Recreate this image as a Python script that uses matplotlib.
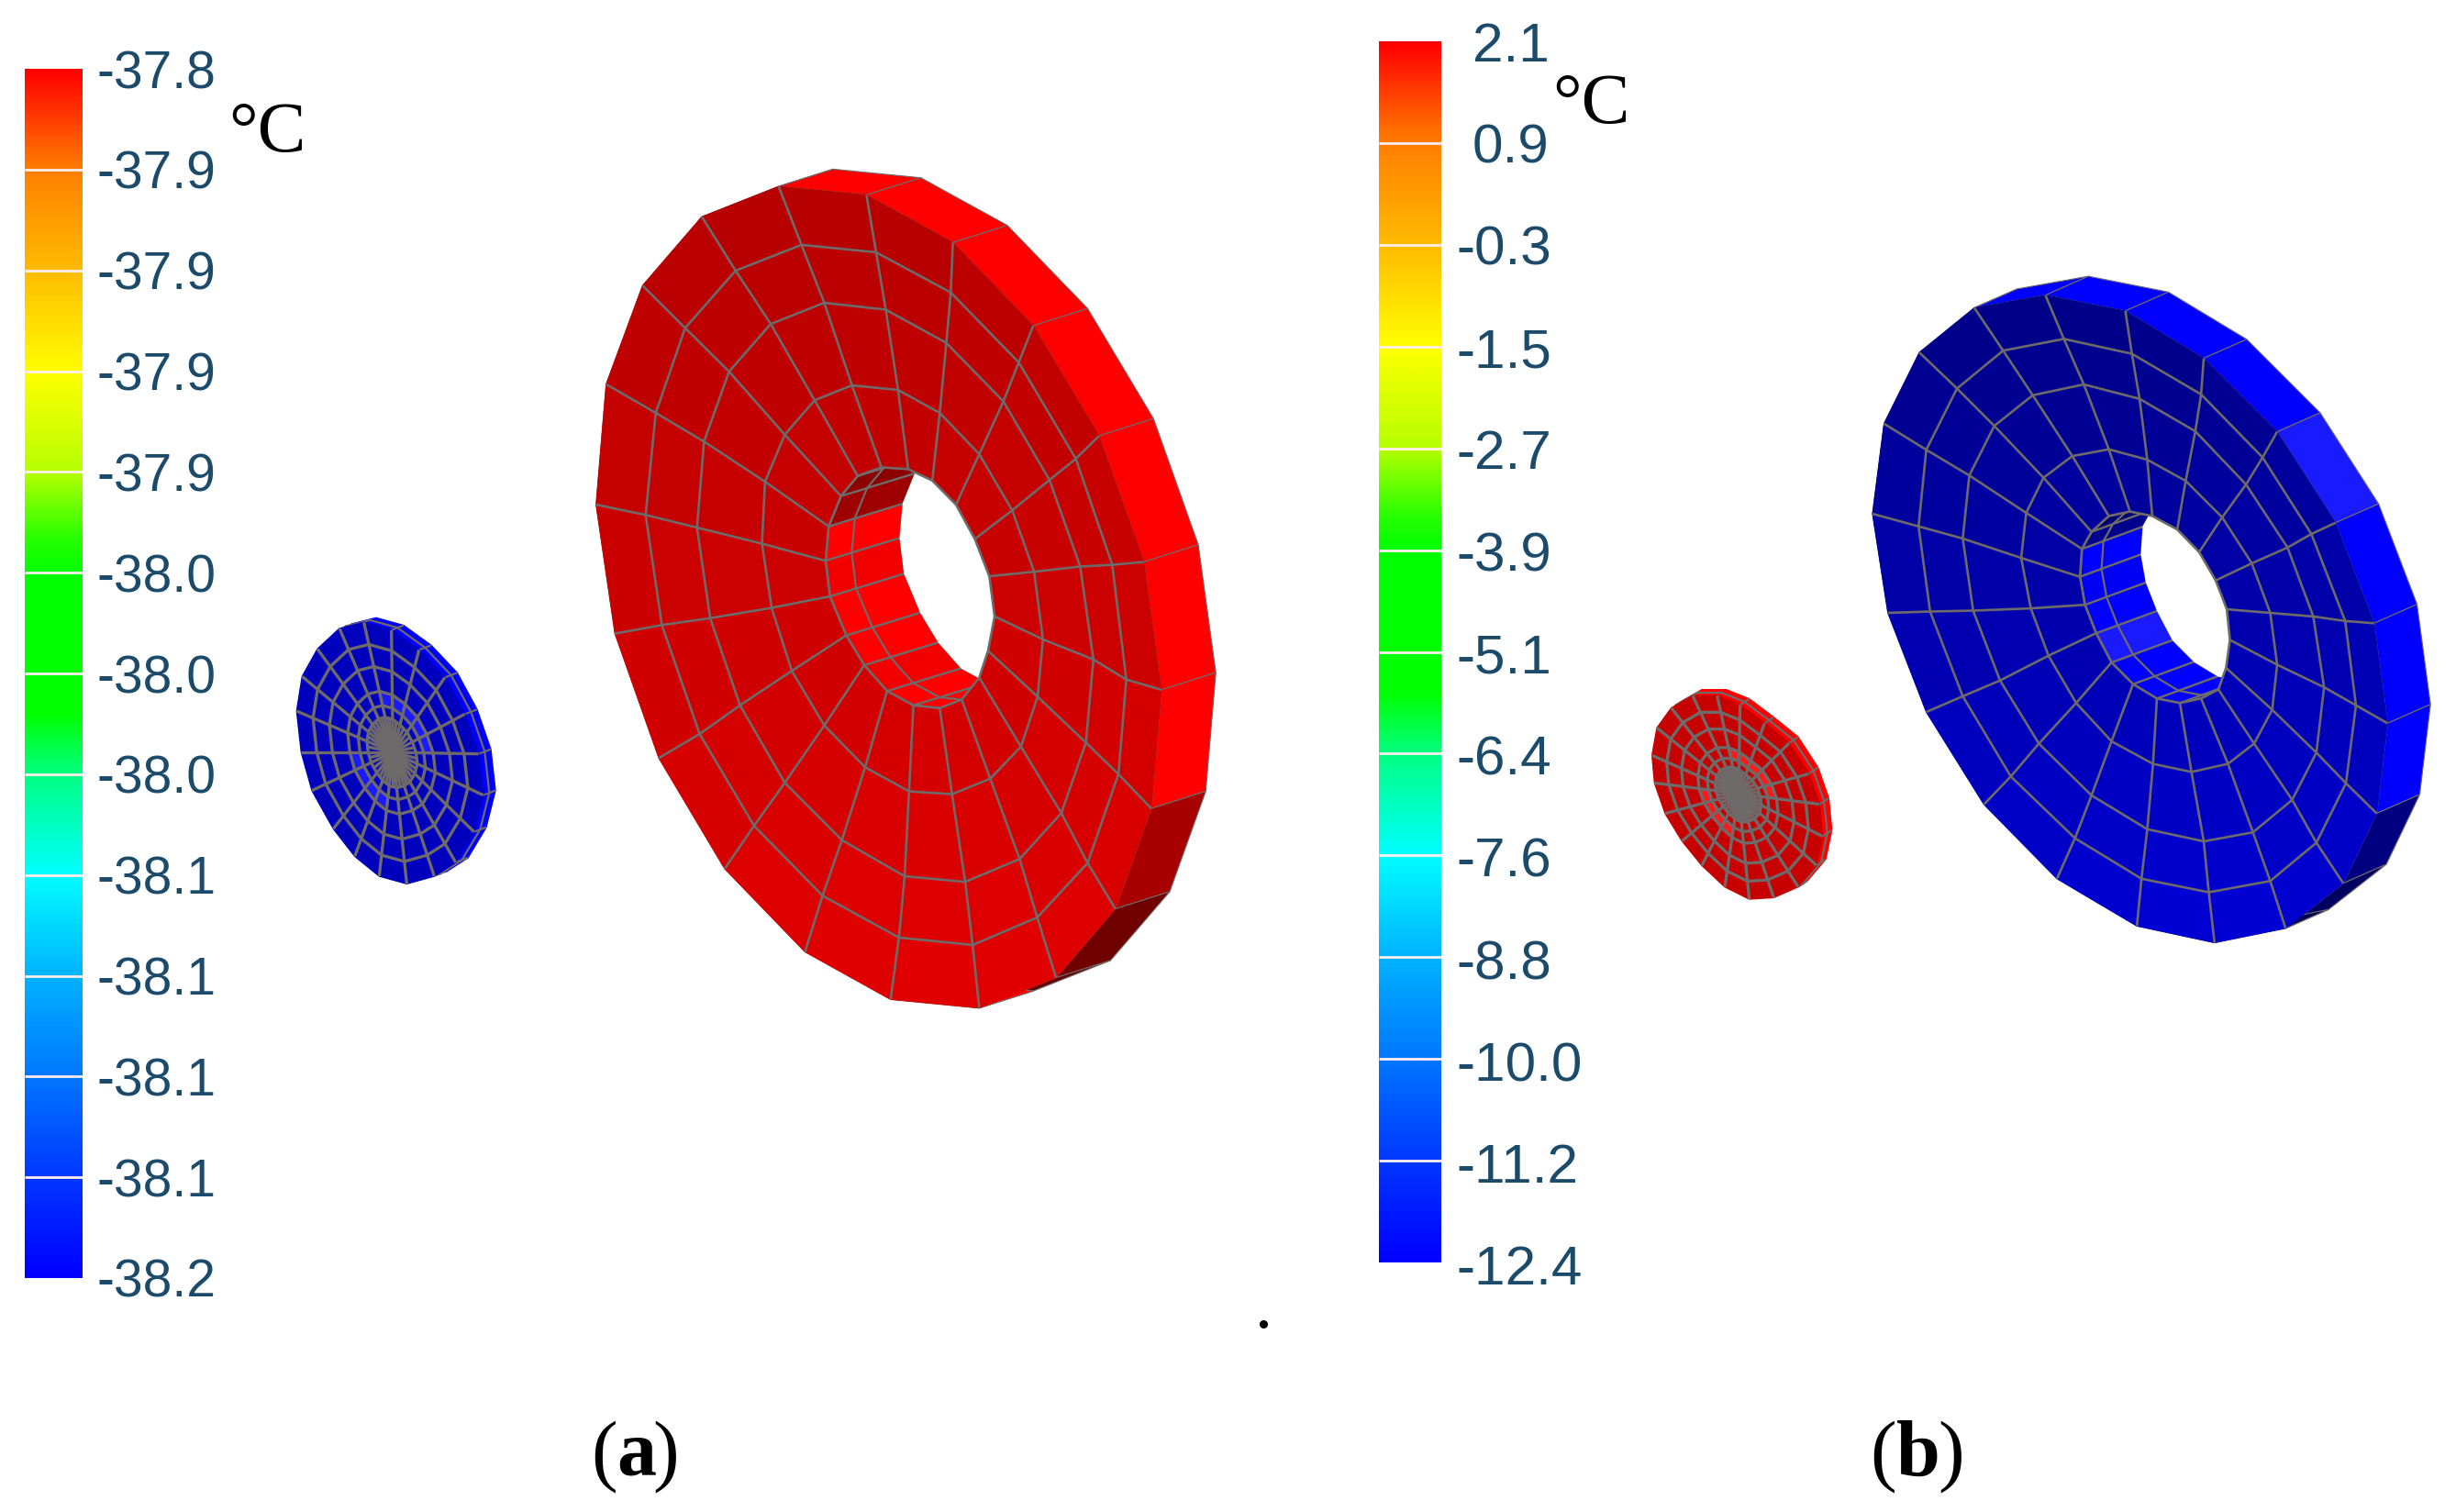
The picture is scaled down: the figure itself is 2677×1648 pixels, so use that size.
#!/usr/bin/env python3
"""Temperature fields on two meshed discs, panels (a) and (b), each with its own colour bar."""
import numpy as np
import matplotlib
matplotlib.use("Agg")
import matplotlib.pyplot as plt
from matplotlib.collections import LineCollection, PolyCollection
from matplotlib.colors import LinearSegmentedColormap

LEFT_LABELS = ["-37.8", "-37.9", "-37.9", "-37.9", "-37.9", "-38.0", "-38.0",
               "-38.0", "-38.1", "-38.1", "-38.1", "-38.1", "-38.2"]
RIGHT_LABELS = ["2.1", "0.9", "-0.3", "-1.5", "-2.7", "-3.9", "-5.1",
                "-6.4", "-7.6", "-8.8", "-10.0", "-11.2", "-12.4"]

# colour bar stops, in label steps from the top
BAR_STEPS = [0, 1, 2, 3, 4, 4.65, 5, 6.4, 7, 8, 9, 10, 11, 12]
BAR_COLORS = ["#ff0000", "#ff8000", "#ffbc00", "#ffff00", "#b4ff00", "#28ff00", "#00ff00",
              "#00ff00", "#00ff80", "#00ffff", "#00b4ff", "#0078ff", "#0038ff", "#0000ff"]

RED_SPOKES = [
    [(62, 640), (175, 658), (292, 680), (440, 708), (585, 738)],
    [(85, 430), (198, 480), (308, 530), (447, 600), (592, 678)],
    [(168, 258), (265, 332), (365, 408), (492, 518), (620, 625)],
    [(303, 138), (380, 232), (460, 325), (560, 458), (658, 590)],
    [(478, 85), (530, 187), (582, 288), (645, 432), (712, 575)],
    [(678, 100), (700, 200), (722, 300), (750, 440), (773, 578)],
    [(875, 183), (870, 270), (860, 358), (845, 480), (828, 598)],
    [(1058, 328), (1025, 392), (990, 460), (935, 552), (882, 640)],
    [(1208, 520), (1155, 560), (1095, 597), (1010, 650), (925, 700)],
    [(1310, 740), (1238, 745), (1165, 748), (1060, 757), (958, 765)],
    [(1350, 963), (1270, 945), (1195, 910), (1080, 875), (970, 835)],
    [(1327, 1170), (1252, 1110), (1178, 1055), (1068, 975), (955, 895)],
    [(1245, 1345), (1182, 1265), (1122, 1178), (1030, 1062), (935, 942)],
    [(1110, 1465), (1067, 1360), (1027, 1258), (960, 1118), (895, 980)],
    [(935, 1518), (920, 1408), (903, 1298), (873, 1145), (845, 995)],
    [(733, 1503), (752, 1395), (765, 1288), (775, 1140), (785, 990)],
    [(538, 1420), (578, 1322), (622, 1225), (675, 1098), (725, 965)],
    [(355, 1275), (422, 1200), (492, 1125), (582, 1025), (673, 920)],
    [(205, 1082), (298, 1040), (390, 990), (508, 930), (632, 868)],
    [(105, 865), (212, 850), (322, 838), (462, 820), (595, 800)],
]

# big disc of (b), crop at (2020, 280)
BLUE_SPOKES = [
    [(50, 570), (170, 598), (285, 625), (437, 668), (590, 710)],
    [(80, 370), (190, 428), (302, 485), (450, 568), (595, 648)],
    [(172, 212), (270, 292), (367, 375), (495, 490), (620, 610)],
    [(315, 113), (390, 208), (467, 307), (570, 442), (665, 575)],
    [(500, 85), (548, 182), (600, 283), (665, 427), (720, 565)],
    [(708, 120), (725, 215), (745, 315), (765, 450), (778, 575)],
    [(912, 225), (905, 305), (890, 387), (865, 497), (843, 605)],
    [(1103, 388), (1065, 445), (1022, 505), (960, 578), (900, 655)],
    [(1255, 590), (1192, 615), (1130, 645), (1037, 680), (943, 718)],
    [(1355, 813), (1280, 808), (1197, 798), (1085, 790), (972, 782)],
    [(1390, 1035), (1308, 995), (1225, 955), (1103, 905), (980, 850)],
    [(1362, 1235), (1282, 1168), (1205, 1100), (1090, 1005), (970, 912)],
    [(1275, 1390), (1205, 1300), (1142, 1205), (1043, 1080), (950, 960)],
    [(1125, 1490), (1085, 1385), (1040, 1277), (975, 1125), (905, 980)],
    [(940, 1522), (925, 1410), (912, 1297), (880, 1143), (850, 990)],
    [(738, 1485), (750, 1380), (765, 1270), (780, 1125), (790, 980)],
    [(530, 1380), (577, 1290), (620, 1195), (672, 1075), (728, 948)],
    [(340, 1215), (410, 1153), (483, 1080), (580, 990), (672, 900)],
    [(190, 1010), (285, 975), (382, 940), (508, 885), (632, 835)],
    [(90, 790), (200, 787), (312, 785), (462, 780), (603, 772)],
]

# small discs: outline only, crops at (300, 650) and (1780, 730)
SMALL_A_OUTLINE = [(70, 375), (88, 262), (138, 172), (210, 105), (290, 85), (380, 110), (470, 175),
                   (555, 265), (620, 385), (665, 515), (680, 650), (650, 770), (590, 870), (520, 915),
                   (430, 940), (340, 915), (260, 850), (190, 760), (120, 635), (85, 510)]
SMALL_B_OUTLINE = [(62, 280), (78, 190), (125, 125), (195, 85), (275, 85), (350, 115), (430, 175),
                   (510, 240), (575, 340), (610, 440), (620, 545), (600, 640), (540, 710), (460, 745),
                   (380, 750), (300, 710), (225, 640), (160, 560), (105, 470), (70, 370)]
SMALL_RINGS = [1.0, 0.83, 0.66, 0.47, 0.36, 0.27, 0.05]
SMALL_BRIGHT_SECTORS = [4, 5, 6, 7, 8, 15, 16, 17, 18]

# shade of each rim face, 0 = black, 1 = full colour, above 1 washed out
RED_RIM_SHADE = [1, 1, 1, 1, 1, 1, 1, 1, 1, 1, 1, 0.66, 0.44, 0.38, 1, 1, 1, 1, 1, 1]
BLUE_RIM_SHADE = [1, 1, 1, 1, 1, 1, 1, 1.1, 1, 1, 1, 0.5, 0.38, 0.32, 1, 1, 1, 1, 1, 1]
RED_BORE_SHADE = [1, 0.62, 0.55, 0.42, 0.42, 1, 1, 1, 1, 1, 1, 1, 1, 1, 1, 1, 0.95, 1, 1, 0.95]
BLUE_BORE_SHADE = [1, 0.55, 0.45, 0.4, 0.4, 1, 1, 1, 1, 1, 1, 1, 1, 1, 1, 1, 1, 1.1, 1, 0.95]

LINE_GREY = "#6f6a6a"
LABEL_BLUE = "#1b4a6b"


def to_page(points, origin, scale):
    return np.asarray(points, dtype=float) / np.array(scale) + origin


def shade(rgb, amount):
    rgb = np.asarray(rgb, dtype=float)
    if amount > 1:
        return tuple(np.clip(rgb + (amount - 1), 0, 1))
    return tuple(rgb * amount)


def quads(outer, inner):
    n = len(outer)
    return [[outer[i], outer[(i + 1) % n], inner[(i + 1) % n], inner[i]] for i in range(n)]


def draw_bar(ax, x0, x1, y0, y1, cmap):
    ramp = np.linspace(0, 1, 400).reshape(-1, 1)
    ax.imshow(ramp, cmap=cmap, extent=(x0, x1, y1, y0), aspect="auto", zorder=2,
              interpolation="bilinear")
    ticks = np.linspace(y0, y1, 13)[1:-1]
    ax.hlines(ticks, x0, x1, color="#ffeeee", lw=2.0, zorder=3)


def draw_labels(ax, labels, x_plain, x_minus, y0, y1, size):
    for label, y in zip(labels, np.linspace(y0, y1, 13)):
        x = x_minus if label.startswith("-") else x_plain
        ax.text(x, y, label, ha="left", va="center", fontsize=size, color=LABEL_BLUE,
                family="Liberation Sans", zorder=4)


def draw_big_disc(ax, spokes, origin, scale, rim_offset, bore_offset, rim_shade, bore_shade, rgb, face_range):
    mesh = to_page(spokes, origin, scale)
    outer = mesh[:, 0]
    hole = mesh[:, -1]
    rim_off = np.array(rim_offset) / np.array(scale)
    bore_off = np.array(bore_offset) / np.array(scale)

    rim_polys = quads(outer, outer + rim_off)
    ax.add_collection(PolyCollection(rim_polys, facecolors=[shade(rgb, s) for s in rim_shade],
                                     edgecolors=LINE_GREY, linewidths=0.8, zorder=5))

    bore_polys = quads(hole, hole + bore_off)
    ax.add_collection(PolyCollection(bore_polys, facecolors=[shade(rgb, s) for s in bore_shade],
                                     edgecolors=LINE_GREY, linewidths=1.6, zorder=6))
    ring = hole + bore_off * 0.35
    ax.add_collection(LineCollection([np.vstack([ring, ring[:1]])], colors=LINE_GREY, linewidths=1.6, zorder=6))
    ax.fill(*(hole + bore_off).T, color="white", zorder=7)

    # front face gets darker towards the top of the disc
    polys, colors = [], []
    top, bottom = outer[:, 1].min(), outer[:, 1].max()
    for j in range(mesh.shape[1] - 1):
        for poly in quads(mesh[:, j], mesh[:, j + 1]):
            t = (np.mean(poly, axis=0)[1] - top) / (bottom - top)
            polys.append(poly)
            colors.append(shade(rgb, face_range[0] + t * (face_range[1] - face_range[0])))
    ax.add_collection(PolyCollection(polys, facecolors=colors, edgecolors=colors, linewidths=0.6, zorder=8))

    segs = [mesh[i] for i in range(len(mesh))]
    for j in range(1, mesh.shape[1]):
        segs.append(np.vstack([mesh[:, j], mesh[:1, j]]))
    ax.add_collection(LineCollection(segs, colors=LINE_GREY, linewidths=1.9, zorder=9))


def draw_small_disc(ax, outline, origin, center, rim_offset, rgb, face_shade):
    edge = to_page(outline, origin, (3, 3))
    mid = to_page([center], origin, (3, 3))[0]
    rim_off = np.array(rim_offset) / 3
    rings = [mid + (edge - mid) * f for f in SMALL_RINGS]

    ax.fill(*(edge + rim_off).T, color=shade(rgb, 1.0), zorder=5)
    rim_lines = [np.vstack([edge + rim_off * 0.5, edge[:1] + rim_off * 0.5])]
    rim_lines += [np.array([edge[i], edge[i] + rim_off]) for i in range(5, 13)]
    ax.add_collection(LineCollection(rim_lines, colors=LINE_GREY, linewidths=1.6, zorder=5))
    ax.fill(*edge.T, color=shade(rgb, face_shade), zorder=6)

    inner_band = quads(rings[3], rings[4])
    bright = [inner_band[i] for i in SMALL_BRIGHT_SECTORS]
    ax.add_collection(PolyCollection(bright, facecolors=[shade(rgb, 1.1)], zorder=7))

    segs = [np.array([edge[i], rings[-1][i]]) for i in range(len(edge))]
    # the hub has twice the spokes of the outer rings
    hub = rings[5]
    segs += [np.array([(hub[i] + hub[(i + 1) % len(hub)]) / 2, mid]) for i in range(len(hub))]
    for ring in rings[1:]:
        segs.append(np.vstack([ring, ring[:1]]))
    ax.add_collection(LineCollection(segs, colors=LINE_GREY, linewidths=2.4, zorder=8))
    ax.fill(*rings[-1].T, color=LINE_GREY, zorder=9)


def draw_panel_tag(ax, letter, x_open, x_letter, x_close, y):
    style = dict(fontsize=62, family="Liberation Serif", color="black", ha="left", va="baseline")
    ax.text(x_open, y, "(", **style)
    ax.text(x_letter, y, letter, fontweight="bold", **style)
    ax.text(x_close, y, ")", **style)


def main():
    fig = plt.figure(figsize=(26.77, 16.48), dpi=100)
    ax = fig.add_axes([0, 0, 1, 1])
    cmap = LinearSegmentedColormap.from_list(
        "bar", list(zip(np.array(BAR_STEPS) / 12, BAR_COLORS)), N=512)

    draw_bar(ax, 27, 90, 75, 1393, cmap)
    draw_bar(ax, 1503, 1571, 45, 1376, cmap)
    draw_labels(ax, LEFT_LABELS, 105, 105, 81, 1399, 41.0)
    draw_labels(ax, RIGHT_LABELS, 1605, 1587, 51, 1385, 43.4)
    ax.text(249, 165, "°C", fontsize=57, family="Liberation Serif", color="black", ha="left", va="baseline")
    ax.text(1692, 134, "°C", fontsize=57, family="Liberation Serif", color="black", ha="left", va="baseline")

    red = (1.0, 0.0, 0.0)
    blue = (0.0, 0.0, 1.0)
    draw_big_disc(ax, RED_SPOKES, (620, 150), (2.09, 1.6), (124, -30), (170, -40),
                  RED_RIM_SHADE, RED_BORE_SHADE, red, (0.71, 0.89))
    draw_big_disc(ax, BLUE_SPOKES, (2020, 280), (2.387, 2.036), (112, -42), (160, -50),
                  BLUE_RIM_SHADE, BLUE_BORE_SHADE, blue, (0.52, 0.84))
    draw_small_disc(ax, SMALL_A_OUTLINE, (300, 650), (385, 510), (40, -15), blue, 0.74)
    draw_small_disc(ax, SMALL_B_OUTLINE, (1780, 730), (345, 405), (30, -20), red, 0.78)

    ax.plot([1377], [1443], "o", color="black", ms=5.5, zorder=4)
    draw_panel_tag(ax, "a", 644, 672, 711, 1608)
    draw_panel_tag(ax, "b", 2038, 2067, 2112, 1608)

    ax.set_xlim(0, 2677)
    ax.set_ylim(1648, 0)
    ax.axis("off")
    fig.savefig("out.png", dpi=100)
    plt.close(fig)


if __name__ == "__main__":
    main()
